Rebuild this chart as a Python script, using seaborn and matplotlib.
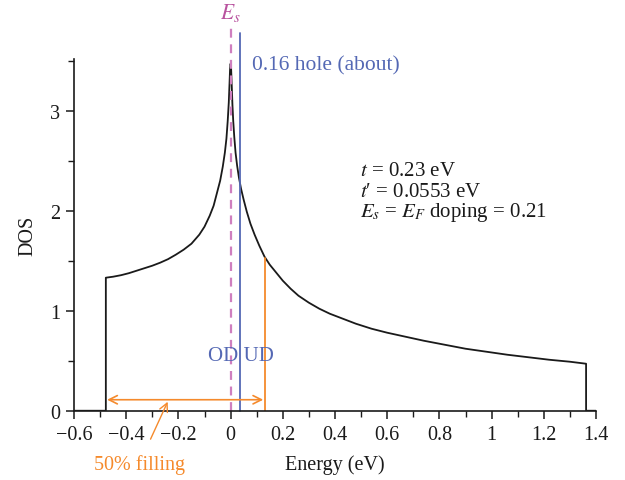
import matplotlib
matplotlib.use("Agg")
import matplotlib.pyplot as plt
import seaborn as sns
import pandas as pd
from matplotlib.ticker import MultipleLocator, FuncFormatter

# Densite d'etats (energie en eV, DOS)
energy = [-0.60, -0.478, -0.478, -0.45, -0.42, -0.39, -0.36, -0.33, -0.30,
          -0.27, -0.24, -0.21, -0.18, -0.15, -0.12, -0.10, -0.08, -0.065,
          -0.05, -0.04, -0.03, -0.022, -0.016, -0.011, -0.007, -0.004, -0.002,
          0.0, 0.002, 0.004, 0.007, 0.010, 0.014, 0.019, 0.025, 0.032, 0.040,
          0.050, 0.062, 0.076, 0.092, 0.11, 0.13, 0.15, 0.175, 0.20, 0.23,
          0.26, 0.30, 0.34, 0.38, 0.43, 0.48, 0.54, 0.60, 0.67, 0.74, 0.82,
          0.90, 0.98, 1.06, 1.14, 1.22, 1.30, 1.362, 1.362, 1.40]
dos = [0.0, 0.0, 1.33, 1.34, 1.355, 1.375, 1.40, 1.425, 1.45,
       1.48, 1.515, 1.56, 1.61, 1.67, 1.76, 1.84, 1.95, 2.05,
       2.20, 2.30, 2.44, 2.58, 2.72, 2.90, 3.08, 3.28, 3.42,
       3.47, 3.42, 3.28, 3.06, 2.90, 2.74, 2.58, 2.45, 2.33, 2.22,
       2.11, 1.99, 1.87, 1.76, 1.65, 1.54, 1.46, 1.38, 1.30, 1.22,
       1.15, 1.08, 1.02, 0.97, 0.92, 0.87, 0.82, 0.78, 0.74, 0.70, 0.66,
       0.62, 0.59, 0.56, 0.535, 0.51, 0.49, 0.47, 0.0, 0.0]

e_s = 0.0          # singularite de van Hove
e_hole = 0.036     # niveau 0.16 trou
e_half = 0.13      # remplissage 50 %
e_bottom = -0.478
dos_half = 1.53

params = [r"$t$ = 0.23 eV", "$t$\u2032 = 0.0553 eV", r"$E_s$ = $E_F$ doping = 0.21"]

sns.set_theme(style="ticks")
plt.rcParams["font.family"] = ["Liberation Serif", "DejaVu Serif"]
plt.rcParams["mathtext.fontset"] = "stix"

black = "#1a1a1a"
pink = "#cf7fbf"
blue = "#5468b4"
orange = "#f58a2c"
fs = 15

fig = plt.figure(figsize=(6.25, 4.81), dpi=100)
ax = fig.add_axes([0.1184, 0.144, 0.8352, 0.732])

df = pd.DataFrame({"energy": energy, "dos": dos})
sns.lineplot(data=df, x="energy", y="dos", sort=False, estimator=None,
             color=black, lw=1.3, ax=ax)

# lignes verticales
ax.plot([e_s, e_s], [0, 3.87], ls=(0, (4, 3)), color=pink, lw=1.6, clip_on=False)
ax.plot([e_hole, e_hole], [0, 3.78], color=blue, lw=1.3, clip_on=False)
ax.plot([e_half, e_half], [0, dos_half], color=orange, lw=1.3)

ax.text(e_s, 3.99, r"$E_s$", color="#b9539f", fontsize=15.5, ha="center", va="center")
ax.text(0.083, 3.46, "0.16 hole (about)", color=blue, fontsize=fs + 0.5, ha="left", va="center")
ax.text(e_hole + 0.003, 0.55, "OD UD", color=blue, fontsize=fs, ha="center", va="center")

for i, s in enumerate(params):
    ax.text(0.497, 2.40 - 0.205 * i, s, color=black, fontsize=fs,
            ha="left", va="center")

# fleche de remplissage
ax.annotate("", xy=(e_bottom + 0.005, 0.11), xytext=(e_half - 0.005, 0.11),
            arrowprops=dict(arrowstyle="<->", color=orange, lw=1.2,
                            mutation_scale=15, shrinkA=0, shrinkB=0))
ax.annotate("50% filling", xy=(-0.241, 0.09), xytext=(-0.35, -0.53),
            color=orange, fontsize=fs - 0.5, ha="center", va="center",
            annotation_clip=False,
            arrowprops=dict(arrowstyle="->", color=orange, lw=1.0,
                            mutation_scale=15, shrinkA=9, shrinkB=0))

ax.set_xlim(-0.6, 1.4)
ax.set_ylim(0, 3.52)
ax.xaxis.set_major_locator(MultipleLocator(0.2))
ax.xaxis.set_minor_locator(MultipleLocator(0.1))
ax.yaxis.set_major_locator(MultipleLocator(1))
ax.yaxis.set_minor_locator(MultipleLocator(0.5))

def fmt(v, pos):
    s = f"{v:.1f}".rstrip("0").rstrip(".")
    if s in ("-0", "0"):
        return "0"
    return s.replace("-", "\u2212")

ax.xaxis.set_major_formatter(FuncFormatter(fmt))
ax.yaxis.set_major_formatter(FuncFormatter(fmt))
ax.tick_params(which="major", length=6, width=1.1, color=black, labelsize=fs - 0.5,
               labelcolor=black, direction="out", pad=4)
ax.tick_params(which="minor", length=4, width=1.0, color=black, direction="out")

for side in ("top", "right"):
    ax.spines[side].set_visible(False)
for side in ("left", "bottom"):
    ax.spines[side].set_color(black)
    ax.spines[side].set_linewidth(1.2)

ax.set_xlabel("Energy (eV)", fontsize=fs - 0.5, color=black, labelpad=8)
ax.set_ylabel("DOS", fontsize=fs - 0.5, color=black, labelpad=9)
ax.grid(False)

fig.savefig("out.png", dpi=100)
